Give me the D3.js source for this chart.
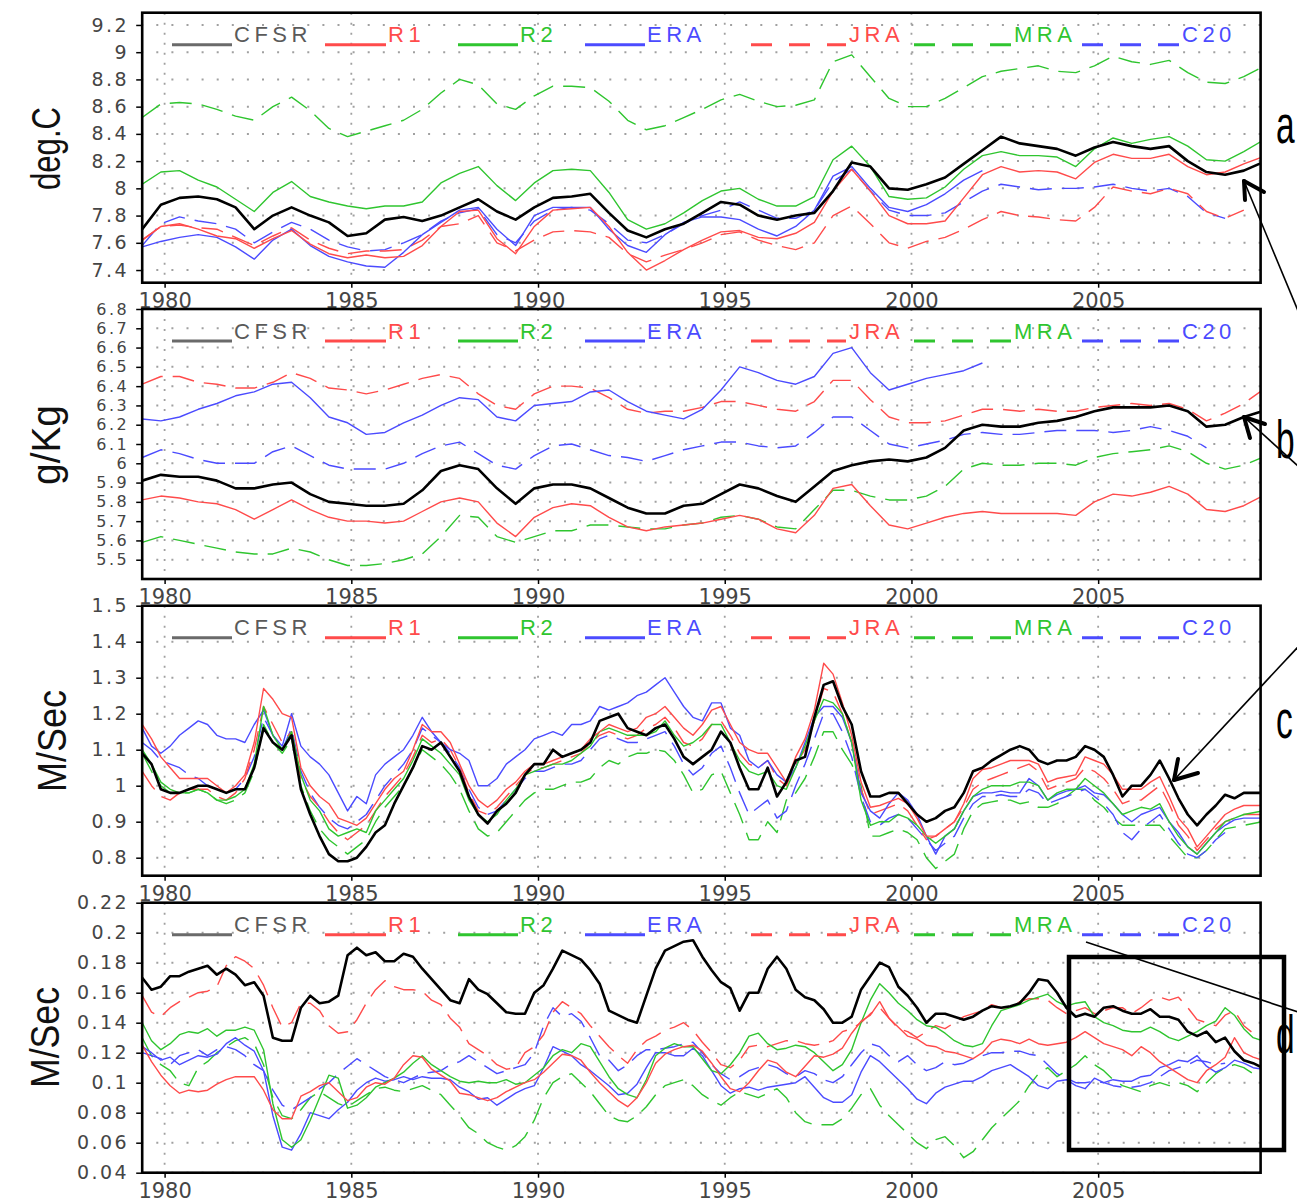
<!DOCTYPE html>
<html>
<head>
<meta charset="utf-8">
<title>Reanalysis comparison</title>
<script src="https://cdn.jsdelivr.net/npm/d3@7/dist/d3.min.js"></script>
<style>
  html, body { margin: 0; padding: 0; background: #fff; }
  svg { display: block; }
</style>
</head>
<body>
<svg id="chart" width="1297" height="1203"></svg>
<script>
// ---------------------------------------------------------------------------
// Time axes (fractional years): half-year steps for a/b, quarter-year for c/d
// ---------------------------------------------------------------------------
const halfYearTimes = d3.range(61).map(i => 1979.4 + 0.5 * i);
const quarterYearTimes = d3.range(121).map(i => 1979.4 + 0.25 * i);
const yearTicks = [1980, 1985, 1990, 1995, 2000, 2005];
const seriesNames = ["CFSR", "R1", "R2", "ERA", "JRA", "MRA", "C20"];

// ---------------------------------------------------------------------------
// Panel a: 2 m temperature (deg.C)
// ---------------------------------------------------------------------------
const tempTicks = [7.4, 7.6, 7.8, 8, 8.2, 8.4, 8.6, 8.8, 9, 9.2];
const tempCFSR = [
  7.70,7.88,7.93,7.94,7.92,7.86,7.70,7.80,7.86,7.80,
  7.75,7.65,7.67,7.77,7.79,7.76,7.80,7.86,7.92,7.83,
  7.77,7.86,7.93,7.94,7.96,7.82,7.69,7.64,7.70,7.74,
  7.82,7.90,7.88,7.80,7.77,7.80,7.82,7.98,8.19,8.16,
  8.00,7.99,8.03,8.08,8.18,8.28,8.38,8.33,8.31,8.29,
  8.24,8.30,8.34,8.31,8.29,8.31,8.20,8.12,8.10,8.13,
  8.19];
const tempR1 = [
  7.62,7.72,7.74,7.70,7.65,7.63,7.56,7.63,7.69,7.59,
  7.52,7.49,7.51,7.49,7.50,7.58,7.72,7.83,7.84,7.63,
  7.52,7.72,7.84,7.85,7.86,7.72,7.53,7.40,7.47,7.55,
  7.62,7.68,7.69,7.64,7.63,7.67,7.75,7.98,8.14,7.98,
  7.80,7.74,7.74,7.76,7.93,8.10,8.16,8.12,8.13,8.12,
  8.07,8.19,8.25,8.22,8.22,8.25,8.16,8.10,8.12,8.18,
  8.23];
const tempR2 = [
  8.03,8.12,8.13,8.06,8.01,7.92,7.83,7.97,8.05,7.94,
  7.90,7.87,7.85,7.87,7.87,7.90,8.04,8.11,8.16,8.02,
  7.91,8.04,8.13,8.14,8.13,7.97,7.77,7.70,7.74,7.82,
  7.91,7.98,8.00,7.92,7.87,7.87,7.94,8.21,8.31,8.16,
  7.94,7.92,7.93,8.01,8.14,8.24,8.27,8.24,8.24,8.23,
  8.16,8.29,8.37,8.33,8.36,8.38,8.31,8.21,8.20,8.27,
  8.35];
const tempERA = [
  7.57,7.61,7.64,7.66,7.64,7.57,7.48,7.62,7.70,7.58,
  7.50,7.46,7.43,7.42,7.53,7.66,7.75,7.84,7.86,7.70,
  7.58,7.80,7.86,7.86,7.86,7.70,7.58,7.53,7.66,7.75,
  7.79,7.79,7.77,7.70,7.65,7.72,7.84,8.09,8.16,8.00,
  7.86,7.83,7.88,7.96,8.06,8.13,null,null,null,null,
  null,null,null,null,null,null,null,null,null,null,
  null];
const tempJRA = [
  7.62,7.72,7.73,7.71,7.70,7.64,7.58,7.65,7.71,7.62,
  7.56,7.52,7.54,7.54,7.55,7.62,7.72,7.74,7.80,7.60,
  7.54,7.62,7.68,7.69,7.68,7.64,7.52,7.46,7.51,7.55,
  7.60,7.66,7.68,7.62,7.58,7.55,7.60,7.80,7.87,7.74,
  7.60,7.56,7.61,7.64,7.70,7.77,7.83,7.80,7.79,7.77,
  7.76,7.86,8.01,7.98,7.96,8.00,7.96,7.83,7.78,7.84,
  null];
const tempMRA = [
  8.52,8.62,8.63,8.62,8.58,8.53,8.50,8.60,8.67,8.57,
  8.44,8.38,8.42,8.46,8.50,8.58,8.70,8.80,8.76,8.62,
  8.58,8.68,8.75,8.75,8.74,8.64,8.50,8.43,8.46,8.52,
  8.58,8.65,8.69,8.64,8.60,8.61,8.65,8.93,8.98,8.82,
  8.66,8.60,8.60,8.66,8.74,8.82,8.86,8.88,8.90,8.86,
  8.85,8.90,8.97,8.93,8.91,8.94,8.85,8.78,8.77,8.82,
  8.89];
const tempC20 = [
  7.58,7.74,7.79,7.76,7.74,7.70,7.60,7.68,7.75,7.70,
  7.62,7.57,7.54,7.55,7.60,7.66,7.76,7.82,7.85,7.66,
  7.60,7.76,7.84,7.86,7.84,7.74,7.62,7.60,7.66,7.74,
  7.80,7.84,7.90,7.84,7.78,7.78,7.84,8.05,8.14,7.98,
  7.84,7.80,7.80,7.82,7.90,7.98,8.03,8.01,7.99,8.00,
  8.00,8.01,8.03,8.00,7.98,8.00,7.94,7.82,7.78,null,
  null];

// ---------------------------------------------------------------------------
// Panel b: 2 m specific humidity (g/Kg)
// ---------------------------------------------------------------------------
const humTicks = [5.5, 5.6, 5.7, 5.8, 5.9, 6, 6.1, 6.2, 6.3, 6.4, 6.5, 6.6, 6.7, 6.8];
const humCFSR = [
  5.91,5.94,5.93,5.93,5.91,5.87,5.87,5.89,5.90,5.84,
  5.80,5.79,5.78,5.78,5.79,5.86,5.96,5.99,5.97,5.87,
  5.79,5.87,5.89,5.89,5.87,5.82,5.77,5.74,5.74,5.78,
  5.79,5.84,5.89,5.87,5.83,5.80,5.88,5.96,5.99,6.01,
  6.02,6.01,6.03,6.08,6.17,6.20,6.19,6.19,6.21,6.22,
  6.24,6.27,6.29,6.29,6.29,6.30,6.27,6.19,6.20,6.24,
  6.27];
const humR1 = [
  5.81,5.83,5.82,5.80,5.79,5.76,5.71,5.76,5.81,5.76,
  5.72,5.70,5.70,5.69,5.70,5.75,5.80,5.82,5.80,5.69,
  5.62,5.72,5.77,5.79,5.78,5.72,5.67,5.65,5.67,5.68,
  5.69,5.71,5.73,5.71,5.66,5.64,5.73,5.87,5.89,5.78,
  5.68,5.66,5.69,5.72,5.74,5.75,5.74,5.74,5.74,5.74,
  5.73,5.80,5.84,5.83,5.85,5.88,5.84,5.76,5.75,5.78,
  5.83];
const humERA = [
  6.23,6.22,6.24,6.28,6.31,6.35,6.37,6.41,6.42,6.34,
  6.24,6.21,6.15,6.16,6.21,6.25,6.30,6.34,6.33,6.24,
  6.22,6.30,6.31,6.32,6.37,6.38,6.32,6.27,6.25,6.23,
  6.28,6.38,6.50,6.47,6.43,6.41,6.45,6.57,6.60,6.47,
  6.38,6.41,6.44,6.46,6.48,6.52,null,null,null,null,
  null,null,null,null,null,null,null,null,null,null,
  null];
const humJRA = [
  6.41,6.45,6.45,6.42,6.41,6.39,6.39,6.42,6.47,6.44,
  6.39,6.38,6.36,6.38,6.41,6.44,6.46,6.44,6.36,6.30,
  6.28,6.36,6.40,6.40,6.39,6.34,6.28,6.26,6.27,6.27,
  6.29,6.32,6.32,6.30,6.28,6.27,6.32,6.43,6.43,6.33,
  6.24,6.21,6.21,6.22,6.25,6.28,6.28,6.27,6.28,6.27,
  6.27,6.29,6.30,6.31,6.30,6.31,6.28,6.22,6.26,6.31,
  6.38];
const humMRA = [
  5.59,5.62,5.60,5.58,5.56,5.54,5.53,5.53,5.56,5.54,
  5.50,5.47,5.47,5.48,5.50,5.53,5.62,5.73,5.72,5.62,
  5.59,5.62,5.65,5.65,5.68,5.68,5.67,5.66,5.66,5.68,
  5.69,5.72,5.73,5.71,5.67,5.66,5.76,5.86,5.86,5.83,
  5.81,5.81,5.83,5.88,5.97,6.00,5.99,5.99,6.00,6.00,
  5.99,6.03,6.05,6.06,6.07,6.09,6.06,6.00,5.97,5.99,
  6.03];
const humC20 = [
  6.03,6.07,6.05,6.02,6.00,6.00,6.00,6.06,6.09,6.04,
  5.99,5.97,5.97,5.97,6.00,6.05,6.09,6.11,6.05,5.99,
  5.97,6.04,6.09,6.10,6.07,6.04,6.03,6.01,6.04,6.07,
  6.09,6.11,6.11,6.09,6.08,6.09,6.16,6.24,6.24,6.17,
  6.10,6.08,6.10,6.12,6.15,6.16,6.15,6.15,6.16,6.17,
  6.17,6.17,6.16,6.17,6.19,6.17,6.14,6.08,null,null,
  null];

// ---------------------------------------------------------------------------
// Panel c: 10 m wind speed (M/Sec)
// ---------------------------------------------------------------------------
const windTicks = [0.8, 0.9, 1, 1.1, 1.2, 1.3, 1.4, 1.5];
const windCFSR = [
  1.09,1.06,0.99,0.98,0.98,0.99,1.00,1.00,0.99,0.98,
  0.99,0.99,1.05,1.16,1.12,1.10,1.14,0.99,0.92,0.86,
  0.81,0.79,0.79,0.80,0.83,0.87,0.89,0.95,1.00,1.05,
  1.11,1.10,1.12,1.08,1.04,0.97,0.92,0.895,0.93,0.95,
  0.98,1.03,1.06,1.06,1.10,1.08,1.09,1.10,1.12,1.18,
  1.19,1.20,1.16,1.15,1.14,1.16,1.17,1.13,1.08,1.06,
  1.08,1.10,1.15,1.12,1.05,0.99,0.99,1.05,0.97,1.01,
  1.07,1.08,1.19,1.28,1.29,1.22,1.17,1.04,0.97,0.97,
  0.98,0.98,0.95,0.92,0.90,0.91,0.93,0.94,0.98,1.04,
  1.05,1.07,1.085,1.10,1.11,1.10,1.07,1.06,1.07,1.07,
  1.08,1.11,1.10,1.08,1.03,0.97,1.00,1.00,1.03,1.07,
  1.02,0.965,0.92,0.89,0.92,0.945,0.975,0.965,0.98,0.98,
  0.98];
const windR1 = [
  1.17,1.13,1.08,1.05,1.02,1.02,1.02,1.02,1.00,0.98,
  1.00,1.03,1.12,1.27,1.24,1.20,1.19,1.05,1.00,0.97,
  0.95,0.91,0.90,0.89,0.91,0.95,0.99,1.02,1.04,1.10,
  1.17,1.15,1.15,1.12,1.06,1.00,0.96,0.94,0.96,0.99,
  1.01,1.04,1.06,1.06,1.07,1.08,1.09,1.10,1.13,1.15,
  1.17,1.16,1.15,1.16,1.19,1.20,1.22,1.19,1.16,1.14,
  1.17,1.21,1.22,1.17,1.12,1.10,1.09,1.09,1.05,1.01,
  1.08,1.13,1.21,1.34,1.31,1.23,1.14,1.01,0.94,0.945,
  0.955,0.965,0.95,0.91,0.86,0.86,0.88,0.90,0.95,1.02,
  1.045,1.05,1.06,1.07,1.07,1.07,1.06,1.01,1.02,1.025,
  1.03,1.08,1.07,1.06,1.03,0.99,0.99,0.99,1.01,1.025,
  0.97,0.91,0.88,0.83,0.86,0.89,0.92,0.935,0.945,0.945,
  0.945];
const windR2 = [
  1.10,1.06,1.01,0.99,0.98,0.98,0.99,0.98,0.96,0.96,
  0.97,0.99,1.06,1.22,1.14,1.10,1.15,1.03,0.96,0.93,
  0.88,0.86,0.87,0.88,0.87,0.93,0.96,0.99,1.02,1.07,
  1.13,1.11,1.09,1.06,1.03,0.96,0.92,0.90,0.92,0.96,
  0.99,1.03,1.04,1.05,1.06,1.06,1.07,1.09,1.11,1.15,
  1.16,1.15,1.14,1.14,1.14,1.15,1.18,1.14,1.11,1.12,
  1.14,1.17,1.17,1.12,1.07,1.04,1.03,1.04,1.00,0.99,
  1.05,1.11,1.18,1.24,1.23,1.20,1.12,0.96,0.89,0.90,
  0.90,0.92,0.91,0.89,0.86,0.84,0.86,0.88,0.93,0.97,
  0.99,1.00,1.00,1.00,1.01,1.01,1.00,0.96,0.98,0.99,
  0.99,1.02,1.00,0.98,0.95,0.92,0.93,0.94,0.935,0.95,
  0.90,0.86,0.83,0.81,0.84,0.87,0.90,0.91,0.92,0.925,
  0.93];
const windERA = [
  1.16,1.11,1.09,1.11,1.14,1.16,1.18,1.17,1.14,1.13,
  1.13,1.12,1.17,1.21,1.14,1.11,1.20,1.11,1.08,1.06,
  1.03,0.98,0.93,0.97,0.95,1.03,1.06,1.08,1.10,1.14,
  1.19,1.15,1.12,1.10,1.09,1.07,1.00,1.00,1.02,1.06,
  1.08,1.10,1.13,1.14,1.15,1.14,1.17,1.17,1.18,1.22,
  1.21,1.22,1.23,1.25,1.26,1.28,1.30,1.26,1.22,1.19,
  1.18,1.23,1.23,1.16,1.14,1.07,1.05,1.07,1.03,1.01,
  1.05,1.12,1.19,1.22,1.22,1.19,1.12,0.98,0.93,0.91,
  0.95,0.98,0.96,0.92,0.86,0.81,0.86,0.88,0.93,0.97,
  0.98,0.98,0.985,0.98,0.98,1.02,1.00,0.96,0.975,0.985,
  0.99,1.00,0.98,0.975,0.95,0.92,0.90,0.92,0.93,0.94,
  0.90,0.87,0.83,0.81,0.84,0.87,0.89,0.905,0.91,0.91,
  0.91];
const windJRA = [
  1.04,1.00,0.97,0.96,0.98,0.99,0.99,0.99,0.97,0.96,
  0.98,1.02,1.10,1.22,1.17,1.12,1.15,1.02,0.97,0.94,
  0.90,0.87,0.85,0.87,0.89,0.93,0.97,1.00,1.03,1.08,
  1.14,1.12,1.13,1.10,1.05,0.98,0.93,0.92,0.94,0.97,
  1.00,1.03,1.05,1.05,1.06,1.07,1.08,1.09,1.12,1.14,
  1.15,1.14,1.13,1.14,1.16,1.17,1.19,1.16,1.12,1.11,
  1.13,1.17,1.18,1.14,1.09,1.06,1.05,1.07,1.02,1.00,
  1.06,1.10,1.18,1.27,1.26,1.20,1.12,0.99,0.92,0.93,
  0.94,0.95,0.93,0.89,0.85,0.86,0.88,0.90,0.94,0.99,
  1.01,1.02,1.03,1.04,1.05,1.06,1.04,0.99,1.00,1.01,
  1.02,1.05,1.04,1.02,0.99,0.95,0.96,0.96,0.98,1.00,
  0.95,0.89,0.86,0.82,0.85,0.88,0.90,0.91,0.92,0.92,
  0.92];
const windMRA = [
  1.09,1.04,1.00,0.98,0.98,0.98,0.99,0.98,0.96,0.95,
  0.96,0.98,1.04,1.17,1.12,1.09,1.13,1.00,0.93,0.88,
  0.85,0.83,0.81,0.83,0.85,0.90,0.94,0.97,1.00,1.05,
  1.10,1.08,1.06,1.03,0.99,0.93,0.88,0.86,0.87,0.90,
  0.93,0.96,0.98,0.99,0.99,1.00,1.01,1.01,1.02,1.05,
  1.07,1.06,1.08,1.09,1.09,1.10,1.095,1.07,1.03,0.98,
  0.99,1.03,1.04,0.98,0.92,0.85,0.85,0.90,0.87,0.96,
  0.98,1.02,1.08,1.15,1.15,1.10,1.06,1.00,0.86,0.86,
  0.87,0.88,0.87,0.85,0.80,0.77,0.79,0.81,0.88,0.93,
  0.95,0.955,0.96,0.96,0.95,0.955,0.94,0.94,0.95,0.97,
  0.99,0.99,0.96,0.94,0.91,0.89,0.89,0.89,0.89,0.89,
  0.86,0.83,0.80,0.80,0.82,0.85,0.88,0.885,0.89,0.895,
  0.90];
const windC20 = [
  1.12,1.10,1.07,1.06,1.05,1.03,1.02,1.00,0.99,0.98,
  0.99,1.02,1.08,1.19,1.14,1.10,1.16,1.04,0.98,0.94,
  0.91,0.89,0.88,0.90,0.92,0.96,1.00,1.03,1.06,1.10,
  1.16,1.14,1.12,1.09,1.05,0.99,0.94,0.92,0.93,0.96,
  0.99,1.02,1.04,1.04,1.05,1.06,1.06,1.07,1.10,1.13,
  1.14,1.13,1.12,1.12,1.13,1.14,1.15,1.11,1.06,1.03,
  1.05,1.09,1.11,1.05,0.98,0.92,0.94,0.96,0.91,0.93,
  1.00,1.06,1.13,1.20,1.20,1.15,1.08,0.97,0.90,0.89,
  0.91,0.92,0.91,0.88,0.85,0.82,0.84,0.86,0.91,0.95,
  0.97,0.97,0.975,0.97,0.97,0.99,0.98,0.95,0.96,0.97,
  0.98,0.99,0.97,0.95,0.92,0.87,0.85,0.88,0.90,0.92,
  0.88,0.84,0.81,0.80,0.82,0.85,0.87,null,null,null,
  null];

// ---------------------------------------------------------------------------
// Panel d: wind variability (M/Sec)
// ---------------------------------------------------------------------------
const varTicks = [0.04, 0.06, 0.08, 0.1, 0.12, 0.14, 0.16, 0.18, 0.2, 0.22];
const varCFSR = [
  0.170,0.162,0.164,0.171,0.171,0.174,0.176,0.178,0.172,0.176,
  0.172,0.165,0.167,0.158,0.130,0.128,0.128,0.150,0.158,0.153,
  0.154,0.158,0.185,0.190,0.185,0.187,0.181,0.181,0.186,0.184,
  0.176,0.169,0.162,0.155,0.153,0.169,0.162,0.159,0.153,0.147,
  0.146,0.146,0.160,0.165,0.176,0.188,0.185,0.182,0.175,0.166,
  0.148,0.145,0.142,0.140,0.158,0.176,0.188,0.191,0.194,0.195,
  0.184,0.175,0.167,0.163,0.148,0.160,0.160,0.176,0.184,0.176,
  0.162,0.157,0.155,0.149,0.140,0.140,0.144,0.162,0.171,0.180,
  0.177,0.164,0.158,0.150,0.140,0.146,0.146,0.144,0.142,0.144,
  0.148,0.151,0.150,0.151,0.153,0.160,0.169,0.168,0.160,0.150,
  0.144,0.146,0.144,0.150,0.151,0.148,0.146,0.146,0.149,0.144,
  0.144,0.142,0.134,0.131,0.134,0.127,0.130,0.121,0.115,0.113,
  0.110];
const varR1 = [
  0.125,0.114,0.105,0.098,0.093,0.095,0.094,0.095,0.099,0.102,
  0.104,0.104,0.104,0.095,0.082,0.076,0.076,0.091,0.094,0.098,
  0.100,0.094,0.088,0.090,0.097,0.100,0.099,0.103,0.112,0.118,
  0.117,0.109,0.105,0.101,0.093,0.092,0.090,0.088,0.090,0.094,
  0.097,0.100,0.102,0.107,0.113,0.119,0.118,0.115,0.107,0.100,
  0.094,0.088,0.084,0.090,0.100,0.113,0.119,0.122,0.124,0.125,
  0.121,0.113,0.104,0.096,0.094,0.100,0.108,0.115,0.113,0.107,
  0.104,0.111,0.118,0.117,0.119,0.123,0.133,0.141,0.145,0.154,
  0.143,0.137,0.131,0.129,0.125,0.124,0.121,0.120,0.118,0.116,
  0.120,0.127,0.129,0.128,0.126,0.129,0.126,0.125,0.126,0.127,
  0.130,0.134,0.130,0.126,0.124,0.122,0.118,0.124,0.120,0.114,
  0.110,0.106,0.102,0.100,0.108,0.112,0.117,0.130,0.120,0.117,
  0.115];
const varR2 = [
  0.140,0.128,0.122,0.126,0.132,0.134,0.133,0.136,0.131,0.135,
  0.135,0.137,0.135,0.122,0.086,0.062,0.057,0.062,0.075,0.090,
  0.105,0.103,0.083,0.085,0.090,0.097,0.100,0.103,0.107,0.113,
  0.118,0.112,0.108,0.104,0.101,0.100,0.101,0.100,0.100,0.102,
  0.099,0.100,0.105,0.110,0.118,0.122,0.120,0.126,0.124,0.114,
  0.104,0.096,0.092,0.090,0.102,0.118,0.123,0.126,0.124,0.124,
  0.116,0.108,0.106,0.112,0.120,0.131,0.133,0.126,0.122,0.123,
  0.125,0.124,0.120,0.114,0.108,0.112,0.122,0.140,0.155,0.166,
  0.160,0.153,0.148,0.142,0.138,0.137,0.133,0.128,0.125,0.124,
  0.126,0.138,0.148,0.150,0.152,0.155,0.157,0.159,0.154,0.151,
  0.153,0.154,0.144,0.140,0.138,0.135,0.134,0.134,0.137,0.134,
  0.130,0.128,0.131,0.134,0.138,0.141,0.150,0.145,0.136,0.130,
  0.128];
const varERA = [
  0.124,0.120,0.115,0.117,0.112,0.115,0.118,0.117,0.119,0.126,
  0.130,0.125,0.121,0.108,0.078,0.057,0.055,0.066,0.080,0.078,
  0.076,0.082,0.087,0.095,0.100,0.103,0.101,0.102,0.104,0.102,
  0.104,0.103,0.103,0.102,0.097,0.094,0.089,0.090,0.085,0.089,
  0.093,0.096,0.098,0.110,0.124,0.121,0.118,0.112,0.108,0.103,
  0.098,0.092,0.093,0.099,0.110,0.120,0.120,0.118,0.118,0.123,
  0.118,0.108,0.098,0.093,0.096,0.097,0.095,0.097,0.098,0.099,
  0.100,0.104,0.097,0.090,0.087,0.087,0.092,0.107,0.118,0.114,
  0.108,0.102,0.096,0.089,0.086,0.093,0.097,0.099,0.101,0.101,
  0.104,0.108,0.110,0.112,0.108,0.104,0.098,0.096,0.101,0.102,
  0.098,0.096,0.103,0.100,0.102,0.101,0.101,0.104,0.105,0.110,
  0.112,0.115,0.114,0.118,0.111,0.107,0.110,0.115,0.113,0.110,
  0.109];
const varJRA = [
  0.158,0.147,0.144,0.150,0.154,0.157,0.160,0.161,0.164,0.178,
  0.184,0.181,0.176,0.165,0.150,0.137,0.140,0.153,0.153,0.148,
  0.138,0.133,0.134,0.142,0.153,0.162,0.168,0.164,0.162,0.162,
  0.161,0.155,0.152,0.143,0.137,0.126,0.122,0.118,0.112,0.109,
  0.110,0.120,0.124,0.132,0.147,0.154,0.150,0.146,0.138,0.131,
  0.124,0.118,0.113,0.122,0.128,0.131,0.135,0.137,0.140,0.135,
  0.127,0.120,0.112,0.110,0.115,0.124,0.125,0.124,0.126,0.128,
  0.128,0.126,0.125,0.126,0.128,0.134,0.136,0.140,0.146,0.150,
  0.143,0.136,0.134,0.130,0.134,0.138,0.136,0.140,0.144,0.146,
  0.148,0.152,0.150,0.150,0.154,0.156,0.156,0.155,0.150,0.146,
  0.148,0.150,0.146,0.148,0.150,0.150,0.146,0.150,0.155,0.157,
  0.155,0.157,0.150,0.142,0.140,0.138,0.145,0.148,0.138,0.133,
  0.130];
const varMRA = [
  0.130,0.118,0.112,0.108,0.100,0.098,0.110,0.114,0.120,0.124,
  0.128,0.130,0.126,0.112,0.090,0.078,0.076,0.082,0.090,0.094,
  0.090,0.086,0.084,0.088,0.092,0.096,0.097,0.095,0.094,0.096,
  0.098,0.095,0.092,0.085,0.078,0.070,0.066,0.060,0.057,0.055,
  0.058,0.064,0.075,0.090,0.100,0.104,0.106,0.100,0.094,0.086,
  0.078,0.075,0.074,0.078,0.084,0.092,0.098,0.100,0.102,0.098,
  0.092,0.088,0.085,0.090,0.094,0.092,0.090,0.093,0.096,0.090,
  0.080,0.074,0.072,0.072,0.072,0.076,0.083,0.092,0.096,0.085,
  0.078,0.072,0.066,0.060,0.056,0.062,0.064,0.058,0.050,0.054,
  0.062,0.070,0.076,0.082,0.088,0.098,0.106,0.110,0.104,0.108,
  0.112,0.118,0.112,0.108,0.102,0.098,0.096,0.094,0.098,0.100,
  0.098,0.100,0.098,0.094,0.100,0.106,0.110,0.112,0.110,0.106,
  0.104];
const varC20 = [
  0.120,0.118,0.116,0.112,0.118,0.120,0.122,0.118,0.122,0.124,
  0.122,0.118,0.112,0.108,0.095,0.085,0.082,0.086,0.090,0.096,
  0.100,0.106,0.111,0.116,0.112,0.108,0.104,0.102,0.100,0.103,
  0.106,0.107,0.108,0.112,0.114,0.118,0.114,0.110,0.106,0.108,
  0.110,0.112,0.120,0.138,0.150,0.144,0.146,0.141,0.130,0.118,
  0.115,0.108,0.112,0.118,0.122,0.122,0.123,0.124,0.126,0.127,
  0.120,0.112,0.106,0.102,0.104,0.108,0.110,0.112,0.110,0.106,
  0.104,0.108,0.106,0.102,0.100,0.104,0.112,0.120,0.126,0.124,
  0.118,0.114,0.118,0.112,0.108,0.110,0.114,0.112,0.113,0.116,
  0.118,0.120,0.120,0.121,0.121,0.119,0.118,0.112,0.106,0.103,
  0.100,0.100,0.101,0.100,0.098,0.097,0.097,0.098,0.100,0.104,
  0.108,0.110,0.112,0.115,0.114,0.112,0.113,null,null,null,
  null];

// ---------------------------------------------------------------------------
// Layout and styles
// ---------------------------------------------------------------------------
const FONT = "'Liberation Sans', Arial, Helvetica, sans-serif";
const TICK_FONT = "'DejaVu Sans', Verdana, sans-serif";
const X_LEFT = 142.2, X_RIGHT = 1260.6, PANEL_H = 270;

const RED = "#ff4b4b", GREEN = "#2fc52f", BLUE = "#4b4bff";
const styles = {
  CFSR: { color: "#000000", width: 2.6, dashed: false, legendLine: "#6a6a6a", legendText: "#5a5a5a" },
  R1:   { color: RED,   width: 1.4, dashed: false, legendLine: RED,   legendText: RED },
  R2:   { color: GREEN, width: 1.4, dashed: false, legendLine: GREEN, legendText: GREEN },
  ERA:  { color: BLUE,  width: 1.4, dashed: false, legendLine: BLUE,  legendText: BLUE },
  JRA:  { color: RED,   width: 1.4, dashed: true,  legendLine: RED,   legendText: RED },
  MRA:  { color: GREEN, width: 1.4, dashed: true,  legendLine: GREEN, legendText: GREEN },
  C20:  { color: BLUE,  width: 1.4, dashed: true,  legendLine: BLUE,  legendText: BLUE }
};
const drawOrder = ["MRA", "C20", "JRA", "ERA", "R2", "R1", "CFSR"];

// legend entry geometry (line start/end, label start)
const legendLayout = {
  CFSR: [172, 232, 234], R1: [325, 386, 388], R2: [458, 518, 520], ERA: [585, 645, 647],
  JRA: [751, 846, 849], MRA: [914, 1012, 1014], C20: [1082, 1180, 1182]
};

const panels = [
  { top: 12.7, domain: [7.307, 9.29], ticks: tempTicks, times: halfYearTimes, tickFont: 19,
    title: "deg.C", titleX: 60, titleY: 148.5, titleLen: 83,
    data: { CFSR: tempCFSR, R1: tempR1, R2: tempR2, ERA: tempERA, JRA: tempJRA, MRA: tempMRA, C20: tempC20 } },
  { top: 309, domain: [5.4, 6.8], ticks: humTicks, times: halfYearTimes, tickFont: 16,
    title: "g/Kg", titleX: 60, titleY: 445, titleLen: 80,
    data: { CFSR: humCFSR, R1: humR1, ERA: humERA, JRA: humJRA, MRA: humMRA, C20: humC20 } },
  { top: 605.7, domain: [0.75, 1.5], ticks: windTicks, times: quarterYearTimes, tickFont: 19,
    title: "M/Sec", titleX: 66, titleY: 741, titleLen: 102,
    data: { CFSR: windCFSR, R1: windR1, R2: windR2, ERA: windERA, JRA: windJRA, MRA: windMRA, C20: windC20 } },
  { top: 902.7, domain: [0.04, 0.22], ticks: varTicks, times: quarterYearTimes, tickFont: 19,
    title: "M/Sec", titleX: 59, titleY: 1037.5, titleLen: 101,
    data: { CFSR: varCFSR, R1: varR1, R2: varR2, ERA: varERA, JRA: varJRA, MRA: varMRA, C20: varC20 } }
];

const svg = d3.select("#chart");
const defs = svg.append("defs");
const x = d3.scaleLinear().domain([1979.4, 2009.35]).range([X_LEFT, X_RIGHT]);

panels.forEach((p, k) => {
  const bottom = p.top + PANEL_H;
  const y = d3.scaleLinear().domain(p.domain).range([bottom, p.top]);
  const g = svg.append("g").attr("class", "panel");

  // dotted grid
  g.append("g").selectAll("line")
    .data(p.ticks.filter(t => y(t) > p.top + 2))
    .join("line")
    .attr("x1", X_LEFT).attr("x2", X_RIGHT)
    .attr("y1", d => y(d)).attr("y2", d => y(d))
    .attr("stroke", "#a0a0a0").attr("stroke-width", 2)
    .attr("stroke-dasharray", "2,13.1").attr("stroke-dashoffset", 1);
  g.append("g").selectAll("line")
    .data(yearTicks)
    .join("line")
    .attr("x1", d => x(d)).attr("x2", d => x(d))
    .attr("y1", p.top).attr("y2", bottom)
    .attr("stroke", "#a0a0a0").attr("stroke-width", 1.8)
    .attr("stroke-dasharray", "2,8");

  // data lines, clipped to the plot frame
  const clipId = "plotClip" + k;
  defs.append("clipPath").attr("id", clipId).append("rect")
    .attr("x", X_LEFT).attr("y", p.top).attr("width", X_RIGHT - X_LEFT).attr("height", PANEL_H);
  const lineLayer = g.append("g").attr("clip-path", `url(#${clipId})`);
  const lineGen = d3.line()
    .defined(d => d[1] !== null && d[1] !== undefined)
    .x(d => x(d[0])).y(d => y(d[1]));
  drawOrder.forEach(name => {
    const values = p.data[name];
    if (!values) return;
    const st = styles[name];
    const pts = p.times.map((t, i) => [t, i < values.length ? values[i] : null]);
    lineLayer.append("path")
      .attr("d", lineGen(pts))
      .attr("fill", "none")
      .attr("stroke", st.color)
      .attr("stroke-width", st.width)
      .attr("stroke-linejoin", "round")
      .attr("stroke-dasharray", st.dashed ? "22,10" : null);
  });

  // legend
  const lg = g.append("g");
  seriesNames.forEach(name => {
    const [x0, x1, tx] = legendLayout[name];
    const st = styles[name];
    lg.append("line")
      .attr("x1", x0).attr("x2", x1)
      .attr("y1", p.top + 32).attr("y2", p.top + 32)
      .attr("stroke", st.legendLine).attr("stroke-width", 3)
      .attr("stroke-dasharray", st.dashed ? "21,17" : null);
    lg.append("text")
      .attr("x", tx).attr("y", p.top + 29.5)
      .attr("font-family", FONT).attr("font-size", 22)
      .attr("letter-spacing", 4.5)
      .attr("fill", st.legendText)
      .text(name);
  });

  // y axis
  const yAxis = d3.axisLeft(y).tickValues(p.ticks).tickFormat(d => String(d))
    .tickSize(6).tickPadding(7);
  const ya = g.append("g").attr("transform", `translate(${X_LEFT},0)`).call(yAxis);
  ya.select(".domain").remove();
  ya.attr("font-family", TICK_FONT).attr("font-size", p.tickFont);
  ya.selectAll("text").attr("fill", "#454545").attr("letter-spacing", 2.5);
  ya.selectAll("line").attr("stroke", "#000").attr("stroke-width", 1.5);

  // x axis
  const xAxis = d3.axisBottom(x).tickValues(yearTicks).tickFormat(d3.format("d"))
    .tickSize(5).tickPadding(5.3);
  const xa = g.append("g").attr("transform", `translate(0,${bottom})`).call(xAxis);
  xa.select(".domain").remove();
  xa.attr("font-family", TICK_FONT).attr("font-size", 21);
  xa.selectAll("text").attr("fill", "#454545");
  xa.selectAll("line").attr("stroke", "#000").attr("stroke-width", 1.5);

  // frame
  g.append("rect")
    .attr("x", X_LEFT).attr("y", p.top)
    .attr("width", X_RIGHT - X_LEFT).attr("height", PANEL_H)
    .attr("fill", "none").attr("stroke", "#000").attr("stroke-width", 2.6);

  // unit label
  g.append("text")
    .attr("transform", `translate(${p.titleX},${p.titleY}) rotate(-90)`)
    .attr("text-anchor", "middle")
    .attr("font-family", FONT).attr("font-size", 40)
    .attr("textLength", p.titleLen).attr("lengthAdjust", "spacingAndGlyphs")
    .attr("fill", "#111")
    .text(p.title);
});

// ---------------------------------------------------------------------------
// Annotations: panel letters, arrows, highlight box
// ---------------------------------------------------------------------------
const notes = svg.append("g").attr("class", "annotations");
[["a", 143], ["b", 458], ["c", 738], ["d", 1053]].forEach(([letter, yb]) => {
  notes.append("text")
    .attr("transform", `translate(1276,${yb}) scale(0.62,1)`)
    .attr("font-family", FONT).attr("font-size", 54)
    .attr("fill", "#000")
    .text(letter);
});

const arrows = [
  { tip: [1244, 181], tail: [1306, 330], wings: [[1245, 200], [1264, 192]] },
  { tip: [1244, 417], tail: [1310, 477], wings: [[1250, 438], [1265, 424]] },
  { tip: [1174, 780], tail: [1310, 634], wings: [[1178, 759], [1198, 773]] }
];
arrows.forEach(a => {
  notes.append("line")
    .attr("x1", a.tail[0]).attr("y1", a.tail[1]).attr("x2", a.tip[0]).attr("y2", a.tip[1])
    .attr("stroke", "#000").attr("stroke-width", 1.6);
  a.wings.forEach(w => {
    notes.append("line")
      .attr("x1", a.tip[0]).attr("y1", a.tip[1]).attr("x2", w[0]).attr("y2", w[1])
      .attr("stroke", "#000").attr("stroke-width", 4).attr("stroke-linecap", "round");
  });
});
notes.append("line")
  .attr("x1", 1086).attr("y1", 942).attr("x2", 1310).attr("y2", 1016)
  .attr("stroke", "#000").attr("stroke-width", 1.6);
notes.append("rect")
  .attr("x", 1069).attr("y", 957).attr("width", 215).attr("height", 193)
  .attr("fill", "none").attr("stroke", "#000").attr("stroke-width", 4.5);
</script>
</body>
</html>
